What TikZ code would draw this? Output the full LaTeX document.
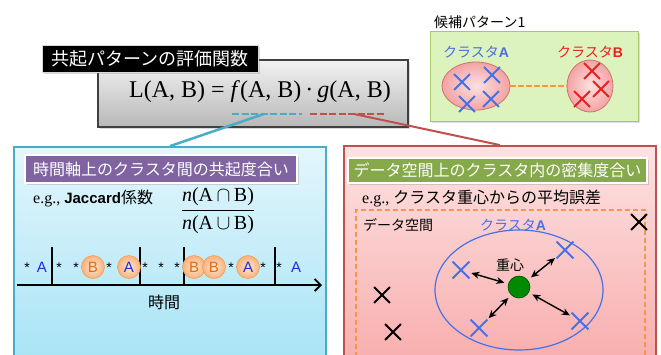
\documentclass[tikz,border=0pt]{standalone}
\usepackage{fontspec}
\setmainfont{Liberation Serif}
\newfontfamily\jpf{Noto Sans CJK JP}
\newfontfamily\arialf{Liberation Sans}
\usetikzlibrary{arrows.meta,shapes.misc,shapes.geometric,shadows}
\definecolor{cyanBd}{HTML}{4BACC6}
\definecolor{cyanTop}{HTML}{E3F6FC}
\definecolor{cyanBot}{HTML}{A8E4F6}
\definecolor{redBd}{HTML}{C0504D}
\definecolor{pinkTop}{HTML}{FDE2E2}
\definecolor{pinkBot}{HTML}{F8AEAE}
\definecolor{purpleT}{HTML}{8064A2}
\definecolor{oliveT}{HTML}{86A94A}
\definecolor{lgreen}{HTML}{DCF3BD}
\definecolor{lgreenBd}{HTML}{A6C86A}
\definecolor{orangeBd}{HTML}{F79646}
\definecolor{orangeIn}{HTML}{FDE6D3}
\definecolor{orangeOut}{HTML}{F9B27C}
\definecolor{orangeTx}{HTML}{E46C0A}
\definecolor{blueTx}{HTML}{1F2FD0}
\definecolor{blueX}{HTML}{4472E6}
\definecolor{redX}{HTML}{E8201E}
\definecolor{clusterBlue}{HTML}{4A6FE0}
\definecolor{dotGreen}{HTML}{008A00}
\definecolor{ellIn}{HTML}{FDE0E0}
\definecolor{ellOut}{HTML}{F3A3A3}
\tikzset{
  jp/.style={font=\jpf\fontsize{#1}{#1}\selectfont},
  ttlbox/.style={rectangle, inner sep=0pt, text=white, draw=white, line width=1.5pt,
    drop shadow={shadow xshift=1.5pt, shadow yshift=-1.5pt, opacity=0.3},
    font=\jpf\fontsize{16}{18}\selectfont},
  bigbox/.style={rectangle, line width=1.8pt, inner sep=0pt},
  xmk/.style={cross out, draw=#1, line width=1.8pt, minimum size=14pt, inner sep=0pt},
  tstar/.style={anchor=base, inner sep=0pt, font=\arialf\fontsize{14}{14}\selectfont},
  tA/.style={anchor=base, inner sep=0pt, text=blueTx, font=\arialf\fontsize{15}{15}\selectfont},
  circ/.style={circle, draw=orangeBd, line width=0.5pt, inner color=orangeIn, outer color=orangeOut,
    minimum size=23pt, inner sep=0pt, font=\arialf\fontsize{15}{15}\selectfont},
  dbl/.style={{Stealth[length=8pt,width=7pt]}-{Stealth[length=8pt,width=7pt]}, line width=1.4pt,
    shorten <=4pt, shorten >=2pt},
  lbl/.style={anchor=base west, inner sep=0pt},
}
\begin{document}
\begin{tikzpicture}[x=1pt,y=-1pt]
\useasboundingbox (0,0) rectangle (661,354);
\fill[white] (0,0) rectangle (661,354);

% formula box
\node[rectangle, draw=black!75, line width=1.2pt, top color=black!5, bottom color=black!28,
  minimum width=310pt, minimum height=67pt,
  drop shadow={shadow xshift=2pt, shadow yshift=-2pt, opacity=0.3}] (fbox) at (253,93.5) {};
\node[rectangle, fill=black, draw=black!15, line width=1pt, text=white, minimum width=216pt,
  minimum height=27pt, inner sep=0pt, font=\jpf\fontsize{18}{20}\selectfont,
  drop shadow={shadow xshift=1.5pt, shadow yshift=-1.5pt, opacity=0.3}] (ttl) at (150,58.5) {共起パターンの評価関数};
\node[anchor=base, inner sep=0pt, font=\fontsize{24}{26}\selectfont] (form) at (260,97)
  {L(A, B) = \textit{f}(A, B)\,·\,\textit{g}(A, B)};

\coordinate (fl) at (232,114); \coordinate (fr) at (302,114); \coordinate (fm) at (264,114);
\coordinate (gl) at (310,114); \coordinate (gr) at (384,114); \coordinate (gm) at (354,114);
\draw[cyanBd, line width=2.5pt, dash pattern=on 7pt off 2.5pt] (fl) -- (fr);
\draw[redBd, line width=2.5pt, dash pattern=on 7pt off 2.5pt] (gl) -- (gr);

% big boxes
\node[bigbox, draw=cyanBd, top color=cyanTop, bottom color=cyanBot,
  minimum width=312pt, minimum height=213pt] (bbox) at (170,253.5) {};
\node[bigbox, draw=redBd, top color=pinkTop, bottom color=pinkBot,
  minimum width=312pt, minimum height=214pt] (rbox) at (500,253) {};
\draw[cyanBd, line width=2.5pt] (fm) -- (bbox.north);
\draw[redBd, line width=2pt] (gm) -- (rbox.north);

% titles
\node[ttlbox, fill=purpleT, minimum width=272pt, minimum height=28pt] (pttl) at (161,169) {時間軸上のクラスタ間の共起度合い};
\node[ttlbox, fill=oliveT, minimum width=299pt, minimum height=25pt] (gttl) at (497.5,170.5) {データ空間上のクラスタ内の密集度合い};

% left box content
\node[lbl] (eg1) at (33,203) {\fontsize{16}{18}\selectfont e.g., {\arialf\bfseries\fontsize{15}{18}\selectfont Jaccard}{\jpf 係数}};
\node[inner sep=0pt] (frac) at (218,211) {\fontsize{20}{22}\selectfont$\displaystyle\frac{\mbox{\textit{n}(A}\,{\cap}\,\mbox{B)}}{\mbox{\textit{n}(A}\,{\cup}\,\mbox{B)}}$};

\coordinate (t0) at (17,285); \coordinate (t1) at (322,285);
\draw[line width=1.8pt, -{Straight Barb[length=6pt,width=12pt]}] (t0) -- (t1);
\foreach \x in {52,140,184,275} \draw[line width=1.3pt] (\x,247) -- (\x,285);

\node[tstar] (s1) at (27,272) {*};
\node[tA] (a1) at (42,272) {A};
\node[tstar] (s2) at (59,272) {*};
\node[tstar] (s3) at (76,272) {*};
\node[circ, text=orangeTx] (cb1) at (93,267) {B};
\node[tstar] (s4) at (109,272) {*};
\node[circ, text=blueTx] (ca1) at (129,267) {A};
\node[tstar] (s5) at (145,272) {*};
\node[tstar] (s6) at (161,272) {*};
\node[tstar] (s7) at (177,272) {*};
\node[circ, text=orangeTx] (cb2) at (194,267) {B};
\node[circ, text=orangeTx] (cb3) at (214,267) {B};
\node[tstar] (s8) at (231,272) {*};
\node[circ, text=blueTx] (ca2) at (248,267) {A};
\node[tstar] (s9) at (263,272) {*};
\node[tstar] (s10) at (279,272) {*};
\node[tA] (a2) at (296,272) {A};
\node[jp=16] (tm) at (164,302) {時間};

% right box content
\node[lbl] (eg2) at (362,203) {\fontsize{16}{18}\selectfont e.g., {\jpf クラスタ重心からの平均誤差}};
\node[rectangle, draw=orangeBd, dash pattern=on 5pt off 3pt, line width=1.5pt,
  minimum width=289pt, minimum height=160pt] (dsp) at (500.5,290) {};
\node[lbl, jp=14] (dlab) at (363,230) {データ空間};
\node[lbl, jp=14, text=clusterBlue] (clab) at (480,230) {クラスタ{\arialf\bfseries A}};
\node[ellipse, draw=blueX, line width=1.2pt, minimum width=168pt, minimum height=120pt] (ell) at (519,290) {};
\node[circle, fill=dotGreen, draw=green!30!black, line width=0.6pt, minimum size=22pt, inner sep=0pt] (cen) at (519,287) {};
\node[jp=14] (jusin) at (510,265) {重心};

\node[xmk=blueX, minimum size=15pt] (b1) at (461,270) {};
\node[xmk=blueX, minimum size=15pt] (b2) at (565,250) {};
\node[xmk=blueX, minimum size=15pt] (b3) at (580,321) {};
\node[xmk=blueX, minimum size=15pt] (b4) at (479,328) {};
\node[xmk=black] (k1) at (639,222) {};
\node[xmk=black] (k2) at (382,295) {};
\node[xmk=black] (k3) at (393,332) {};
\draw[dbl] (cen) -- (b1);
\draw[dbl] (cen) -- (b2);
\draw[dbl] (cen) -- (b3);
\draw[dbl] (cen) -- (b4);

% candidate pattern
\node[lbl, jp=14] (kouho) at (434,27) {候補パターン1};
\node[rectangle, draw=lgreenBd, fill=lgreen, line width=1pt, minimum width=208pt, minimum height=90pt,
  drop shadow={shadow xshift=2pt, shadow yshift=-2pt, opacity=0.25}] (gbox) at (534,76) {};
\node[lbl, jp=14, text=clusterBlue] (la) at (443,57) {クラスタ{\arialf\bfseries A}};
\node[lbl, jp=14, text=redX] (lb) at (557,57) {クラスタ{\arialf\bfseries B}};
\node[ellipse, draw=redBd!80, line width=0.8pt, inner color=ellIn, outer color=ellOut,
  minimum width=68pt, minimum height=48pt] (ea) at (476,86) {};
\node[ellipse, draw=redBd!80, line width=0.8pt, inner color=ellIn, outer color=ellOut,
  minimum width=46pt, minimum height=52pt] (eb) at (590,86) {};
\draw[orangeBd, line width=2.5pt, dash pattern=on 6pt off 2pt] (ea.east) -- (eb.west);
\node[xmk=blueX] (ga1) at (462,82) {};
\node[xmk=blueX] (ga2) at (492,75) {};
\node[xmk=blueX] (ga3) at (467,104) {};
\node[xmk=blueX] (ga4) at (491,99) {};
\node[xmk=redX] (gb1) at (592,71) {};
\node[xmk=redX] (gb2) at (601,89) {};
\node[xmk=redX] (gb3) at (582,99) {};
\end{tikzpicture}
\end{document}
